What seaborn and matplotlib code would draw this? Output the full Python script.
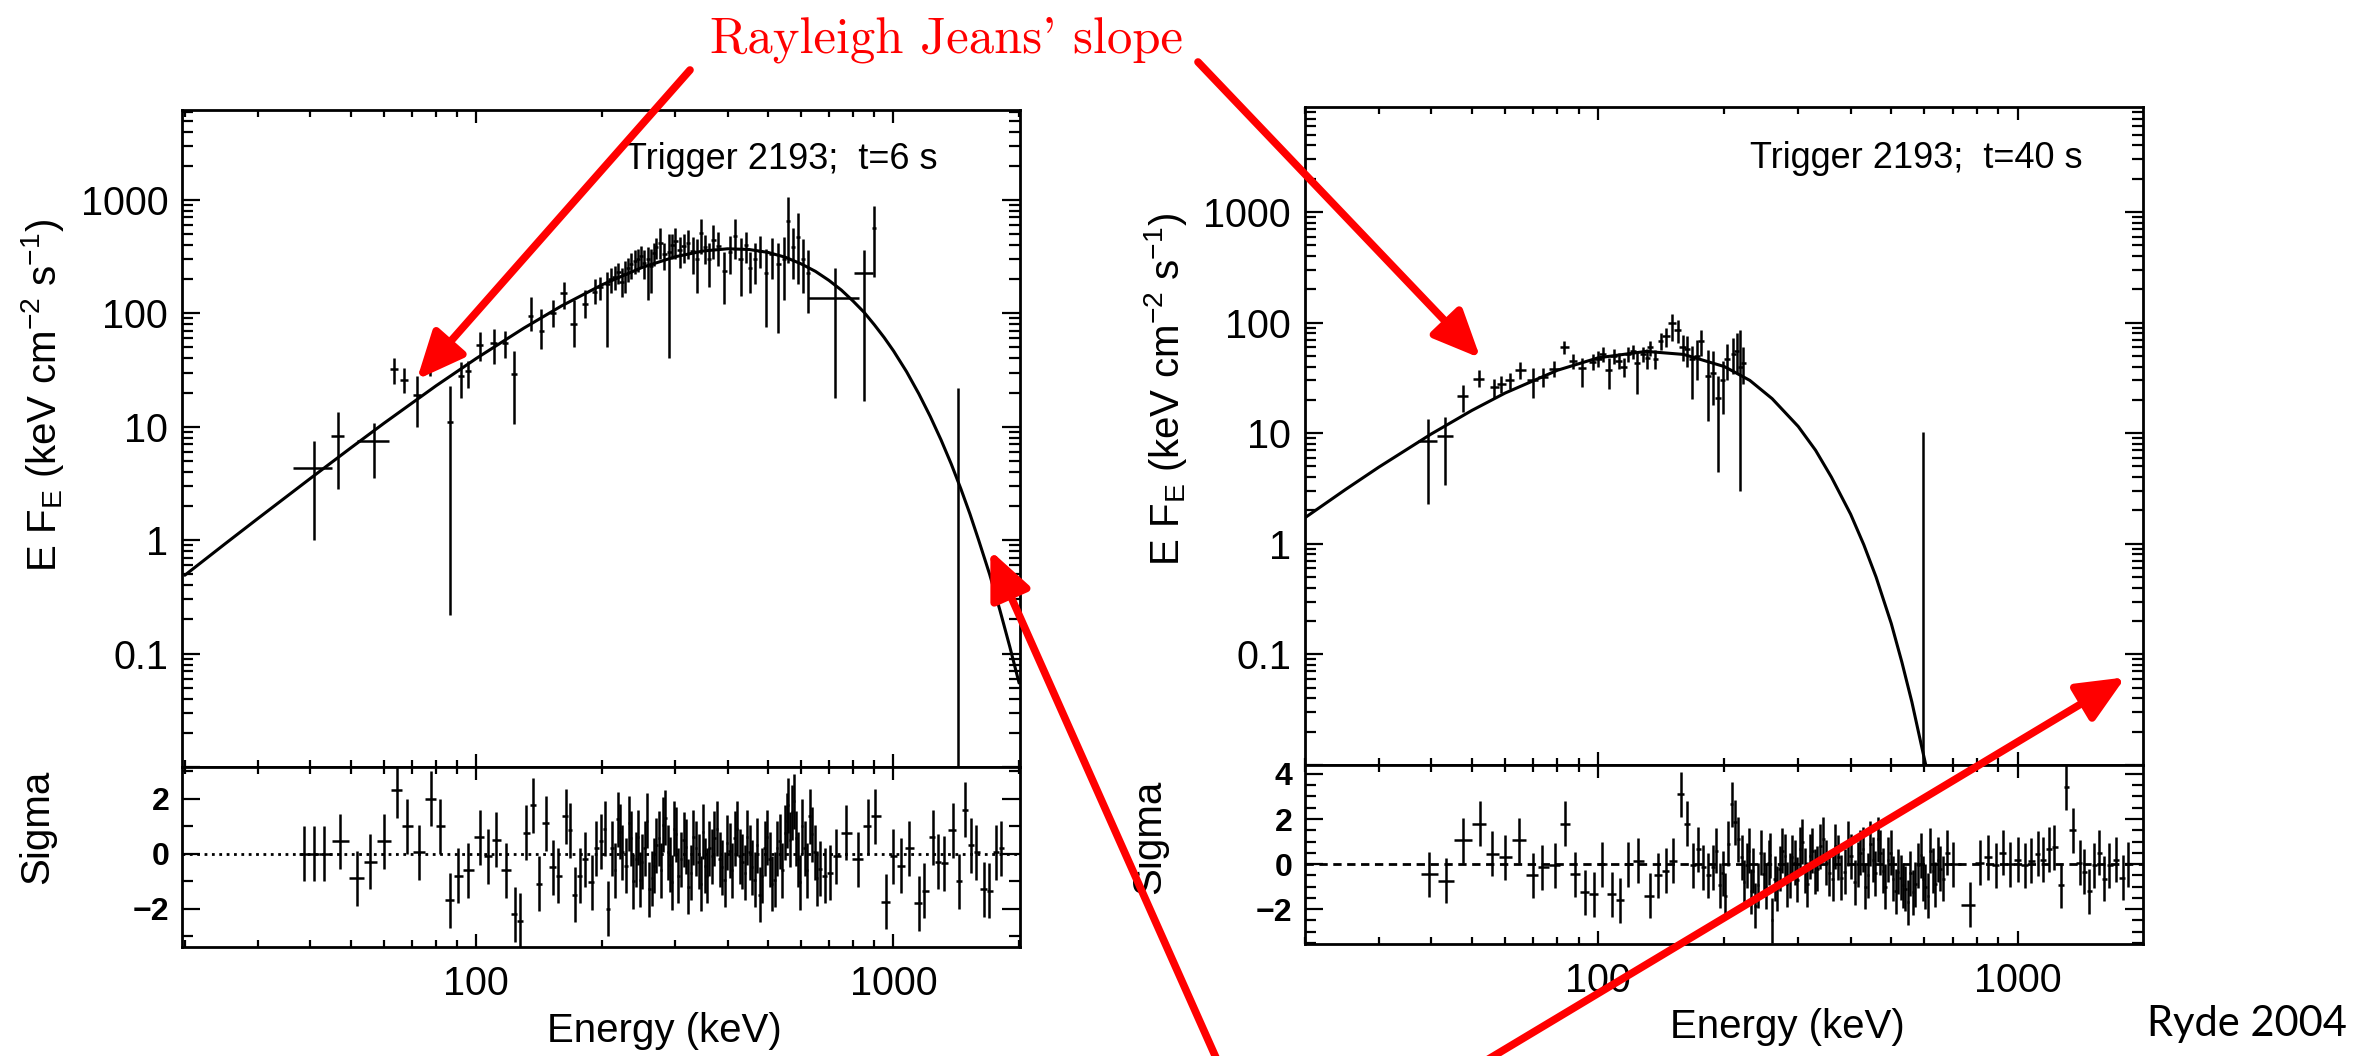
import numpy as np
import matplotlib
matplotlib.use("Agg")
import matplotlib.pyplot as plt
import seaborn as sns
from matplotlib.ticker import LogLocator, MultipleLocator, NullFormatter

# ---- model curves (blackbody fits) ----
left_fit_e = [20, 25, 30, 40, 50, 60, 80, 100, 130, 160, 200, 250, 300, 350, 400, 450, 500, 550,
              600, 650, 700, 750, 800, 850, 900, 950, 1000, 1075, 1150, 1225, 1300, 1375, 1450,
              1525, 1600, 1700, 1800, 1900, 2000]
left_fit_f = [0.49, 0.93, 1.56, 3.5, 6.5, 10.7, 22.9, 40, 74, 116, 178, 254, 315, 354, 370, 365,
              344, 312, 273, 234, 195, 160, 128, 102, 79, 61, 46.6, 30.5, 19.5, 12.3, 7.65, 4.7,
              2.84, 1.7, 1.0, 0.5, 0.24, 0.115, 0.055]

right_fit_e = [20, 25, 30, 40, 50, 60, 80, 100, 130, 160, 200, 230, 260, 300, 330, 360, 400, 430,
               460, 500, 530, 560, 590, 610, 630]
right_fit_f = [1.72, 3.1, 4.93, 9.83, 16.05, 23.05, 37.06, 48.0, 54.9, 51.5, 40, 30, 20.5, 11.5,
               7.0, 4.0, 1.85, 0.98, 0.5, 0.19, 0.085, 0.037, 0.015, 0.0085, 0.0045]

# ---- spectral data points: energy, half bin width, flux, lower / upper bound ----
left_e = [40.7, 46.5, 56.8, 63.5, 67.0, 72.0, 77.5, 86.5, 92.0, 95.5, 102, 110, 117, 123, 135,
          143, 153, 162, 171, 182, 192, 206, 215, 223, 231, 240, 248, 258, 266, 276, 290, 300,
          314, 330, 346, 362, 380, 393, 417, 430, 453, 478, 495, 530, 558, 590, 624, 725, 850,
          900, 1430,
          198, 210, 219, 227, 235, 244, 252, 262, 270, 282, 295, 307, 322, 338, 354, 370, 405,
          442, 465, 510, 545, 575, 607]
left_de = [4.3, 1.7, 5.0, 1.5, 1.5, 1.5, 1.5, 1.5, 1.5, 1.5, 2, 2, 2, 2, 2, 2, 2.5, 3, 3, 3, 3, 3,
           3, 3, 3, 3, 3, 3, 3, 4, 4, 4, 4, 4, 4, 4, 5, 5, 5, 5, 5, 5, 6, 6, 6, 7, 8, 100, 45, 10, 30,
           3, 3, 3, 3, 3, 3, 3, 3, 3, 4, 4, 4, 4, 4, 4, 5, 5, 5, 5, 6, 6, 7, 8]
left_f = [4.3, 8.3, 7.5, 32, 26, 19, 40, 11, 28, 31, 52, 55, 55, 29, 95, 70, 100, 150, 80, 120,
          155, 180, 210, 190, 250, 290, 320, 300, 340, 420, 350, 430, 390, 355, 510, 300, 390,
          236, 480, 300, 250, 355, 225, 270, 650, 470, 226, 137, 225, 560, 0.005,
          170, 200, 230, 220, 270, 300, 280, 260, 380, 330, 400, 360, 420, 300, 380, 440, 350,
          400, 300, 330, 300, 380, 300]
left_f_lo = [1.0, 2.8, 3.5, 24, 20, 10, 28, 0.22, 18, 22, 38, 36, 40, 10.5, 70, 48, 75, 110, 50,
             90, 120, 50, 160, 140, 190, 220, 250, 130, 260, 300, 40, 300, 280, 220, 330, 170,
             260, 120, 300, 143, 150, 250, 76, 67, 280, 180, 100, 18, 17, 210, 0.0001,
             130, 150, 180, 150, 200, 230, 200, 150, 300, 240, 300, 250, 300, 150, 270, 300, 220,
             280, 180, 200, 130, 200, 150]
left_f_hi = [7.5, 13.6, 10.8, 40, 33, 28, 53, 23, 37, 38, 68, 72, 70, 46, 140, 110, 130, 190,
             130, 160, 200, 230, 260, 250, 310, 360, 390, 380, 420, 560, 500, 560, 500, 470, 680,
             420, 520, 350, 680, 460, 350, 480, 370, 420, 1050, 760, 360, 250, 360, 880, 22,
             210, 250, 280, 290, 340, 370, 360, 370, 460, 420, 500, 470, 540, 450, 490, 600, 480,
             520, 420, 460, 470, 560, 450]

right_e = [39.3, 43.2, 47.5, 51.9, 56.6, 58.8, 61.5, 65.2, 69.8, 74, 78.5, 83, 87, 91.7, 97, 102.7,
           106, 112, 118, 124, 128, 133, 137, 141, 150, 159, 167.6, 176, 183, 193, 203, 210, 218,
           222, 594,
           100, 109, 115, 121, 131, 145, 155, 163, 172, 188, 198, 214]
right_de = [2, 2, 1.5, 1.5, 1.5, 1.5, 1.5, 2, 2, 2, 2, 2, 2, 2, 2, 2, 2, 2, 2, 2, 2, 2, 2, 2, 3, 3,
            3, 3, 3, 3, 3, 3, 3, 3, 5,
            2, 2, 2, 2, 2, 3, 3, 3, 3, 3, 3, 3]
right_f = [8.5, 9.4, 21.5, 31, 26, 27.7, 30, 37, 30, 32.5, 38, 60, 45, 39, 44, 52, 37.6, 45, 52,
           43, 52, 59.6, 47, 68, 99, 60, 47, 68, 32.7, 20.6, 47, 52, 40, 43, 0.005,
           47, 50, 40, 55, 48, 75, 85, 58, 50, 35, 30, 55]
right_f_lo = [2.3, 3.4, 15.5, 26, 21, 23, 25, 31, 21, 26, 32, 52, 38, 26, 37, 44, 25, 38, 44,
              22.5, 44, 50, 38, 56, 68, 45, 20.5, 50, 13, 4.5, 30, 34, 3, 28, 0.0001,
              40, 42, 32, 47, 38, 60, 65, 40, 30, 18, 15, 35]
right_f_hi = [13.5, 14, 27, 37, 31, 33, 35, 44, 39, 39, 45, 68, 52, 48, 52, 60, 48, 53, 60, 55,
              60, 68, 57, 80, 119, 78, 62, 86, 57, 32.6, 64, 72, 86, 60, 10.3,
              55, 58, 48, 63, 58, 90, 105, 75, 70, 55, 45, 80]

# ---- residuals (sigma) ----
left_res_e = [38.6, 40.7, 43.1, 47.2, 51.8, 55.7, 60.0, 64.6, 68, 72.9, 78, 81.7, 86.3, 90.3, 95.5,
              101.8, 106.6, 111.6, 118, 123.6, 127, 131.8, 136.8, 141.3, 146.6, 152.7, 157, 164.4,
              167.5, 172.3, 177, 182, 188.9, 194, 199.5, 206.8, 212, 218, 224, 229, 235, 241.6,
              247, 253, 260, 267, 274, 280, 288, 295, 301, 310, 318, 327, 336, 346, 354, 362, 372,
              383, 394, 405, 416, 428, 440, 452, 465, 478, 491, 505, 519, 534, 549, 559, 572, 585,
              596, 612, 629, 647, 665, 684, 703, 729, 770, 822, 869, 902, 962, 996, 1042, 1092,
              1153, 1186, 1241, 1276, 1324, 1386, 1439, 1480, 1535, 1578, 1652, 1698, 1762, 1812,
              203, 215, 221, 232, 238, 244, 250, 257, 263, 270, 277, 284, 291, 298, 305, 314, 322,
              331, 341, 350, 358, 367, 377, 388, 399, 410, 422, 434, 446, 458, 471, 484, 498, 512,
              526, 541, 554, 565, 578, 590, 604, 620, 638, 656]
left_res_sig = [0.0, 0.0, 0.0, 0.45, -0.9, -0.3, 0.45, 2.3, 1.0, 0.05, 2.0, 1.0, -1.7, -0.8, -0.6,
                0.6, -0.1, 0.5, -0.6, -2.2, -2.45, 0.75, 1.75, -1.1, 1.1, -0.5, -0.8, 1.35, 0.85,
                -1.5, -0.8, -0.2, -1.05, 0.2, 0.45, -2.0, 0.2, 1.25, 0.05, -0.45, 0.55, -0.2,
                -0.95, 0.2, -1.3, -0.45, 0.55, 1.05, 0.05, -1.05, 0.7, -0.2, 0.25, -0.7, 0.2, -1.1,
                -0.45, 0.2, 0.55, -0.2, -0.95, 0.1, 0.55, -0.1, -0.7, 0.05, -0.95, -1.5, 0.2, -0.2,
                -0.95, 0.45, 0.75, 1.75, 1.5, 0.55, -1.05, 0.2, 1.35, 0.05, -0.55, -0.8, -0.7,
                -0.1, 0.75, -0.2, 1.0, 1.35, -1.75, -0.1, -0.45, 0.2, -1.8, -1.35, 0.6, -0.3,
                -0.35, 0.85, -1.0, 1.6, 0.3, 0.05, -1.3, -1.35, 0.05, 0.2,
                0.9, -0.6, 0.8, 1.1, -1.0, 0.6, -0.3, 1.2, -0.9, 0.3, -0.6, 1.3, -0.4, 0.9, -0.8,
                0.5, -1.2, 0.6, -0.3, 0.8, -0.8, -0.1, 0.9, -0.5, 0.4, -0.6, 0.9, -0.3, 0.6, -0.5,
                0.3, -0.8, 0.6, -1.1, 0.2, -0.6, 1.2, 0.5, 1.9, -0.2, 1.0, -0.6, 0.7, -0.9]

right_res_e = [39.6, 43.3, 47.6, 52.4, 55.8, 60.1, 64.6, 70.1, 73.5, 79.1, 83.5, 88.2, 93.1, 97.5,
               102, 107.8, 112.8, 118, 124.7, 133, 139, 145, 151, 158, 162.5, 168.6, 173, 178,
               183, 188, 195.5, 201, 208, 212, 216, 220, 226, 232, 237, 241, 248, 255, 259.5, 264,
               271, 279, 286, 294, 303, 311, 320, 329, 338, 350, 363, 373, 387, 401, 417, 428,
               440, 452, 465, 478, 491, 505, 519, 533, 548, 563, 580, 596, 611, 628, 646, 664,
               701, 769, 812, 850, 889, 922, 957, 1002, 1040, 1079, 1118, 1148, 1190, 1222, 1270,
               1305, 1355, 1406, 1443, 1484, 1525, 1567, 1610, 1656, 1718, 1782, 1832,
               191, 198, 204, 223, 229, 234, 244, 251, 257, 267, 275, 282, 290, 298, 307, 315,
               324, 333, 344, 356, 368, 380, 394, 409, 422, 434, 446, 458, 471, 484, 498, 512,
               526, 540, 555, 571, 588, 603, 620, 637, 655, 680]
right_res_sig = [-0.45, -0.75, 1.05, 1.8, 0.45, 0.3, 1.05, -0.5, -0.15, -0.05, 1.8, -0.45, -1.25,
                 -1.35, 0.0, -1.35, -1.6, 0.0, 0.15, -1.4, -0.5, -0.3, 0.15, 3.1, 1.8, -0.05,
                 0.65, -0.15, -0.5, -0.15, -0.95, -1.4, 2.65, 1.85, 1.1, 0.3, -0.05, -1.2, -1.85,
                 -0.95, -0.45, 0.05, -2.5, -0.65, -0.2, 0.35, -0.5, 0.05, 0.65, -0.3, 0.35, -0.35,
                 0.8, 0.05, -0.65, 0.3, -0.35, 0.35, 0.0, 0.65, -0.5, 0.2, 1.1, -0.3, 0.2, -0.65,
                 -0.35, -0.95, -1.7, -1.25, -0.05, -0.65, -1.4, -0.3, 0.2, -0.65, 0.0, -1.8, 0.05,
                 0.3, -0.05, 0.5, 0.0, 0.2, -0.05, 0.15, 0.45, 0.2, 0.65, 0.75, -0.95, 3.4, 1.5,
                 0.05, -0.35, -1.2, -0.05, 0.5, -0.65, -0.05, 0.2, -0.6, 0.0,
                 0.6, -0.4, 0.9, -0.8, 0.6, -0.3, 0.5, -1.0, 0.4, -1.1, 0.6, -0.9, 0.3, -0.7, 1.0,
                 -0.9, 0.6, -0.2, 1.1, -0.4, 0.8, -0.6, 0.9, -0.8, 0.5, -1.0, 0.9, -0.4, 0.5, -1.0,
                 0.5, -1.2, -0.6, -1.1, -0.4, -0.9, 0.4, -1.0, 0.6, -0.9, -0.2, 0.5]

sns.set_theme(style="ticks")
plt.rcParams["font.family"] = ["Liberation Sans", "DejaVu Sans"]
plt.rcParams["mathtext.default"] = "regular"
plt.rcParams["axes.edgecolor"] = "black"
plt.rcParams["axes.linewidth"] = 2.0
plt.rcParams["xtick.color"] = "black"
plt.rcParams["ytick.color"] = "black"
plt.rcParams["text.color"] = "black"
plt.rcParams["axes.labelcolor"] = "black"

LW_ERR = 1.8
RED = "#ff0000"
TICK_FS = 28.5
LABEL_FS = 29


def bin_halfwidths(e):
    # contiguous bins: edges halfway (in log) between neighbouring channels
    e = np.asarray(e, float)
    mid = np.sqrt(e[1:] * e[:-1])
    lo = np.concatenate([[e[0] ** 2 / mid[0]], mid])
    hi = np.concatenate([mid, [e[-1] ** 2 / mid[-1]]])
    return [e - lo, hi - e]


def style_ticks(ax):
    ax.tick_params(which="both", direction="in", top=True, right=True, width=1.6)
    ax.tick_params(axis="y", which="major", length=13)
    ax.tick_params(axis="y", which="minor", length=8)
    ax.tick_params(axis="x", which="major", length=9.5)
    ax.tick_params(axis="x", which="minor", length=5)


def spectrum_panel(ax, fit_e, fit_f, e, de, f, f_lo, f_hi, xlim, ylim, label, lab_x, lab_y):
    ax.set_xscale("log")
    ax.set_yscale("log")
    sns.lineplot(x=fit_e, y=fit_f, ax=ax, color="black", linewidth=2.2)
    f = np.asarray(f, float)
    ax.errorbar(e, f, xerr=de, yerr=[f - np.asarray(f_lo), np.asarray(f_hi) - f],
                fmt="none", ecolor="black", elinewidth=LW_ERR, capsize=0)
    ax.set_xlim(xlim)
    ax.set_ylim(ylim)
    ax.set_xticks([100, 1000])
    ax.xaxis.set_minor_locator(LogLocator(base=10, subs=np.arange(2, 10), numticks=100))
    ax.xaxis.set_minor_formatter(NullFormatter())
    ax.tick_params(axis="x", labelbottom=False)
    ax.set_yticks([0.01, 0.1, 1, 10, 100, 1000], ["", "0.1", "1", "10", "100", "1000"])
    ax.yaxis.set_minor_locator(LogLocator(base=10, subs=np.arange(2, 10), numticks=100))
    ax.yaxis.set_minor_formatter(NullFormatter())
    style_ticks(ax)
    ax.tick_params(axis="y", labelsize=TICK_FS, pad=10)
    ax.set_xlabel("")
    ax.set_ylabel("E F$_E$ (keV cm$^{-2}$ s$^{-1}$)", fontsize=LABEL_FS)
    ax.yaxis.label.set_va("center")
    ax.yaxis.set_label_coords(lab_x, lab_y)
    ax.text(label[1], label[2], label[0], transform=ax.transAxes, ha="right", va="center",
            fontsize=26)


def residual_panel(ax, res_e, res_sig, xlim, ylim, yticks, minor_step, zero_ls, sig_x, sig_y):
    order = np.argsort(res_e)
    res_e = np.asarray(res_e, float)[order]
    res_sig = np.asarray(res_sig, float)[order]
    ax.set_xscale("log")
    ax.axhline(0, color="black", lw=2, ls=zero_ls, zorder=1)
    ax.errorbar(res_e, res_sig, xerr=bin_halfwidths(res_e), yerr=1.0,
                fmt="none", ecolor="black", elinewidth=LW_ERR, capsize=0)
    ax.set_xlim(xlim)
    ax.set_ylim(ylim)
    ax.set_xticks([100, 1000], ["100", "1000"])
    ax.xaxis.set_minor_locator(LogLocator(base=10, subs=np.arange(2, 10), numticks=100))
    ax.xaxis.set_minor_formatter(NullFormatter())
    ax.set_yticks(yticks)
    ax.yaxis.set_minor_locator(MultipleLocator(minor_step))
    style_ticks(ax)
    ax.tick_params(axis="y", labelsize=23, pad=9)
    for t in ax.get_yticklabels():
        t.set_fontweight("bold")
    ax.tick_params(axis="x", labelsize=TICK_FS, pad=13)
    ax.set_xlabel("Energy (keV)", fontsize=LABEL_FS)
    ax.xaxis.label.set_va("center")
    ax.xaxis.set_label_coords(0.576, -0.466)
    ax.set_ylabel("Sigma", fontsize=LABEL_FS)
    ax.yaxis.label.set_va("center")
    ax.yaxis.set_label_coords(sig_x, sig_y)


fig = plt.figure(figsize=(23.77, 10.56), dpi=100)

ax_l = fig.add_axes([0.0766, 0.2737, 0.3525, 0.6222])
ax_lr = fig.add_axes([0.0766, 0.1032, 0.3525, 0.1705])
ax_r = fig.add_axes([0.5490, 0.2756, 0.3525, 0.6231])
ax_rr = fig.add_axes([0.5490, 0.1061, 0.3525, 0.1695])

spectrum_panel(ax_l, left_fit_e, left_fit_f, left_e, left_de, left_f, left_f_lo, left_f_hi,
               (19.7, 2010), (0.0101, 6200), ("Trigger 2193;  t=6 s", 0.902, 0.925),
               -0.167, 0.565)
spectrum_panel(ax_r, right_fit_e, right_fit_f, right_e, right_de, right_f, right_f_lo,
               right_f_hi, (20, 1990), (0.0102, 8900), ("Trigger 2193;  t=40 s", 0.928, 0.921),
               -0.167, 0.57)
residual_panel(ax_lr, left_res_e, left_res_sig, (19.7, 2010), (-3.4, 3.15), [-2, 0, 2], 1,
               ":", -0.173, 0.67)
residual_panel(ax_rr, right_res_e, right_res_sig, (20, 1990), (-3.55, 4.4), [-2, 0, 2, 4], 0.5,
               (0, (3, 2)), -0.186, 0.6)

# ---- red annotation layer ----
ax_ov = fig.add_axes([0, 0, 1, 1])
ax_ov.set_axis_off()
ax_ov.patch.set_alpha(0)

arrow_kw = dict(arrowstyle="-|>,head_length=0.9,head_width=0.4", mutation_scale=32,
                color=RED, lw=5.5, shrinkA=0, shrinkB=0)
ax_ov.annotate("", xy=(72, 26), xycoords=ax_l.transData, xytext=(690, 986),
               textcoords="figure pixels", arrowprops=arrow_kw, annotation_clip=False)
ax_ov.annotate("", xy=(52.4, 47.7), xycoords=ax_r.transData, xytext=(1198, 994),
               textcoords="figure pixels", arrowprops=arrow_kw, annotation_clip=False)
ax_ov.annotate("", xy=(1707, 0.81), xycoords=ax_l.transData, xytext=(1217, -4),
               textcoords="figure pixels", arrowprops=arrow_kw, annotation_clip=False)
ax_ov.annotate("", xy=(1807, 0.062), xycoords=ax_r.transData, xytext=(1487, -4),
               textcoords="figure pixels", arrowprops=arrow_kw, annotation_clip=False)

fig.text(0.398, 0.962, "Rayleigh Jeans' slope", color=RED, fontsize=36.5,
         family=["cmr10", "DejaVu Serif"], ha="center", va="center")
fig.text(2347 / 2377, 1 - 1024 / 1056, "Ryde 2004", color="black", fontsize=30,
         family=["Lato", "DejaVu Sans"], ha="right", va="center")

fig.savefig("out.png", dpi=100)
